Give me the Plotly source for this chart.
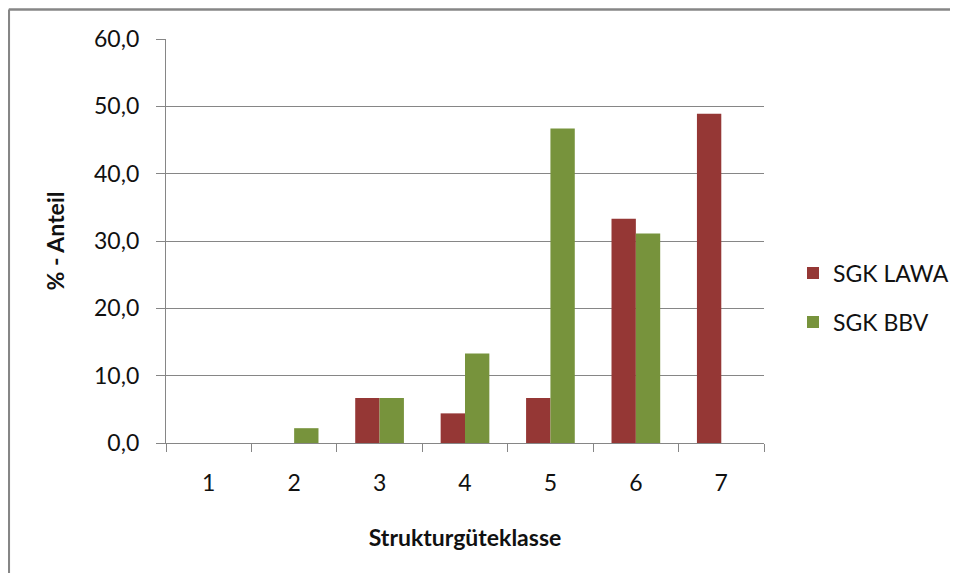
import plotly.graph_objects as go

categories = ["1", "2", "3", "4", "5", "6", "7"]
sgk_lawa = [0.0, 0.0, 6.7, 4.4, 6.7, 33.3, 48.9]
sgk_bbv = [0.0, 2.2, 6.7, 13.3, 46.7, 31.1, 0.0]
series_names = ["SGK LAWA", "SGK BBV"]
colors = ["#953735", "#77933C"]

FONT = "Lato"
# page body has an 8px margin, so the figure is offset by 8px
W, H = 958, 565
ML, MT = 158, 31
PW, PH = 598, 404
MR = W - ML - PW
MB = H - MT - PH

fig = go.Figure()
for name, vals, col, grp in zip(series_names, [sgk_lawa, sgk_bbv], colors, ["a", "b"]):
    fig.add_trace(go.Bar(x=categories, y=vals, name=name, marker_color=col,
                         marker_line_width=0, legendgroup=grp))

# outer chart frame (top and left edges visible in the picture)
xl = (0.8 - ML) / PW
yt = (H - MB - 1.5) / PH
fig.add_shape(type="line", xref="paper", yref="paper", x0=xl, x1=(W + 20 - ML) / PW, y0=yt, y1=yt,
              line=dict(color="#868686", width=2.5), layer="below")
fig.add_shape(type="line", xref="paper", yref="paper", x0=xl, x1=xl, y0=yt, y1=(H - MB - H - 20) / PH,
              line=dict(color="#868686", width=2.5), layer="below")

fig.update_layout(
    width=W, height=H,
    margin=dict(l=ML, r=MR, t=MT, b=MB),
    paper_bgcolor="white", plot_bgcolor="white",
    barmode="group", bargap=0.43, bargroupgap=0,
    separators=",.",
    font=dict(family=FONT, size=23, color="#111111"),
    showlegend=True,
    legend=dict(x=1.0485, y=0.36, xanchor="left", yanchor="middle",
                font=dict(family=FONT, size=23, color="#111111"),
                tracegroupgap=16, itemwidth=30, bgcolor="rgba(0,0,0,0)"),
    xaxis=dict(type="category", showline=True, linecolor="#868686", linewidth=1.3,
               ticks="outside", tickson="boundaries", ticklen=8, tickcolor="#868686",
               tickwidth=1.3, showgrid=False, ticklabelstandoff=19,
               title=dict(text="<b>Strukturgüteklasse</b>", font=dict(size=23), standoff=35)),
    yaxis=dict(range=[0, 60], dtick=10, tickformat=".1f", showline=True,
               linecolor="#868686", linewidth=1.3, ticks="outside", ticklen=9,
               tickcolor="#868686", tickwidth=1.3, showgrid=True, gridcolor="#868686",
               gridwidth=1.3, zeroline=False, ticklabelstandoff=12,
               title=dict(text="<b>% - Anteil</b>", font=dict(size=23), standoff=22)),
)

fig.write_html("out.html")
